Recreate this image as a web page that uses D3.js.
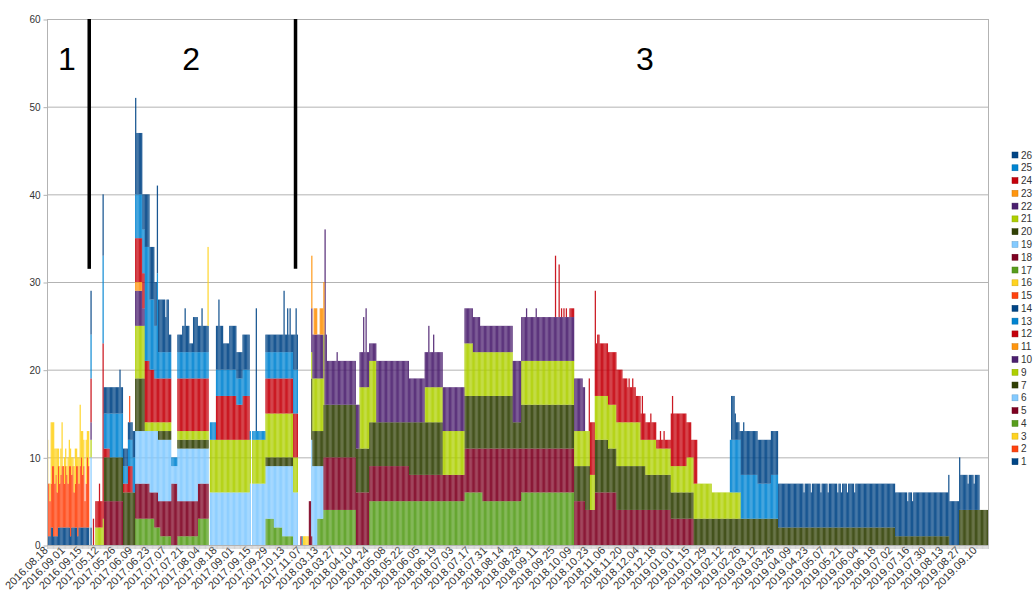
<!DOCTYPE html>
<html>
<head>
<meta charset="utf-8">
<script src="https://cdn.jsdelivr.net/npm/d3@7"></script>
<style>
  html, body { margin: 0; padding: 0; background: #ffffff; }
  svg { display: block; font-family: "Liberation Sans", Arial, sans-serif; }
</style>
</head>
<body>
<svg id="chart" width="1033" height="592"></svg>
<script>
// ---- categories: observation days, grouped in contiguous date spans ----
const dateSpans = [["2016-08-18", 42], ["2017-05-12", 168], ["2017-11-07", 14], ["2018-03-13", 556]];

// every 14th day gets a label on the axis
const tickLabels = [
  "2016.08.18","2016.09.01","2016.09.15","2017.05.12","2017.05.26","2017.06.09","2017.06.23",
  "2017.07.07","2017.07.21","2017.08.04","2017.08.18","2017.09.01","2017.09.15","2017.09.29",
  "2017.10.13","2017.11.07","2018.03.13","2018.03.27","2018.04.10","2018.04.24","2018.05.08",
  "2018.05.22","2018.06.05","2018.06.19","2018.07.03","2018.07.17","2018.07.31","2018.08.14",
  "2018.08.28","2018.09.11","2018.09.25","2018.10.09","2018.10.23","2018.11.06","2018.11.20",
  "2018.12.04","2018.12.18","2019.01.01","2019.01.15","2019.01.29","2019.02.12","2019.02.26",
  "2019.03.12","2019.03.26","2019.04.09","2019.04.23","2019.05.07","2019.05.21","2019.06.04",
  "2019.06.18","2019.07.02","2019.07.16","2019.07.30","2019.08.13","2019.08.27","2019.09.10"
];

const yTicks = [0, 10, 20, 30, 40, 50, 60];

// phase names with the day their caption is centred on
const phaseLabels = [["1", "2016.09.03"], ["2", "2017.07.28"], ["3", "2018.12.09"]];
const dividerDays = ["2016.09.22", "2017.10.23"];

const seriesKeys = ["1","2","3","4","5","6","7","9","10","11","12","13","14","15","16","17","18","19","20","21","22","23","24","25","26"];
const palette = ["#004586","#ff420e","#ffd320","#579d1c","#7e0021","#83caff","#314004","#aecf00","#4b1f6f","#ff950e","#c5000b","#0084d1"];

// ---- series values: first phase read bar by bar, the rest as [fromDay, toDay, value] runs ----
const s1Daily = [1,1,1,2,2,1,1,1,1,2,2,2,2,2,2,2,2,2,2,1,2,2,2,2,2,1,2,2,2,2,2,2,2,2,2];
const s2Daily = [6,6,4,5,7,8,6,7,5,7,5,6,7,7,5,7,6,5,7,8,6,7,4,5,7,8,5,7,8,6,7,3,5,8,7];
const s3Daily = [5,0,2,7,5,5,4,3,5,2,2,3,5,0,3,2,1,3,3,2,2,1,3,4,2,1,3,7,3,5,3,0,5,3,4];
const s1 = [[36,36,2]];
const s2 = [];
const s3 = [];
const s4 = [[73,88,3],[89,93,2],[94,102,1],[108,124,1],[125,133,3],[181,187,3],[188,194,2],[195,203,1]];
const s5 = [[47,62,5],[73,84,4],[85,88,3],[89,91,4],[92,93,3],[94,102,4],[103,107,7],[108,133,4]];
const s6 = [[36,36,8],[73,84,6],[85,102,7],[103,107,2],[108,124,6],[125,133,4],[135,167,6],[168,168,7],[170,180,7],[181,187,6],[188,194,7],[195,203,8],[204,207,6]];
const s7 = [[47,62,5],[63,80,6],[92,102,1],[108,133,1],[181,203,1]];
const s9 = [[36,36,2],[40,45,2],[46,46,3],[73,80,6],[81,102,1],[108,133,1],[135,167,6],[168,168,5],[170,203,5],[204,207,4]];
const s10 = [[36,36,2],[73,78,4],[79,80,2]];
const s11 = [[73,78,1]];
const s12 = [[36,36,5],[38,38,3],[40,42,3],[43,43,5],[44,45,3],[46,46,20],[47,51,1],[63,66,1],[67,70,3],[73,78,5],[79,80,4],[81,84,7],[85,88,6],[89,102,5],[108,133,6],[140,156,5],[157,161,4],[162,167,5],[181,203,4],[204,207,5],[210,210,1]];
const s13 = [[36,36,5],[46,46,10],[47,51,4],[52,62,5],[63,66,2],[67,70,3],[71,72,4],[73,80,5],[81,84,13],[85,88,8],[89,90,6],[91,91,12],[92,102,3],[103,107,1],[108,133,3],[135,139,2],[140,167,3],[168,168,1],[170,180,1],[181,203,3],[204,207,5],[211,211,1]];
const s14 = [[36,36,5],[46,46,7],[47,59,3],[60,60,5],[61,62,3],[63,70,2],[71,72,3],[73,73,11],[74,78,7],[79,80,4],[81,88,6],[89,90,5],[91,91,10],[92,97,6],[98,98,4],[99,100,6],[101,102,2],[108,111,2],[112,113,3],[114,114,5],[115,117,3],[118,120,1],[121,124,4],[125,127,3],[128,128,5],[129,133,3],[140,141,5],[142,142,8],[143,145,5],[146,150,3],[151,156,5],[157,161,3],[162,167,4],[173,173,14],[181,195,2],[196,196,7],[197,198,2],[199,199,5],[200,200,2],[201,201,5],[202,203,2],[204,205,4],[206,206,7],[207,207,4]];
const s15 = [[68,68,3]];
const s16 = [[133,133,9],[212,216,1]];
const s17 = [[224,228,3],[229,255,4],[267,345,5],[346,360,6],[361,392,5],[393,436,6]];
const s18 = [[217,218,5],[219,219,1],[229,266,6],[267,299,4],[300,345,3],[346,360,5],[361,392,6],[393,436,5],[437,445,5],[446,453,4],[454,471,6],[472,516,4],[517,535,3]];
const s19 = [[219,219,11],[220,223,9],[224,228,6]];
const s20 = [[219,219,7],[220,228,4],[229,255,6],[256,299,5],[300,327,6],[346,385,6],[386,392,3],[393,436,5],[437,445,4],[446,449,5],[454,464,6],[465,495,5],[496,516,4],[517,605,3],[606,702,2],[703,747,1],[756,779,4]];
const s21 = [[219,219,3],[220,228,6],[229,229,8],[259,272,7],[313,327,4],[328,345,5],[346,352,6],[353,385,5],[393,436,5],[437,453,4],[454,491,5],[492,495,3],[496,504,4],[505,529,3],[530,550,4],[551,574,3]];
const s22 = [[219,228,5],[230,230,20],[231,231,8],[232,239,5],[240,240,6],[241,258,5],[259,261,4],[262,262,8],[263,263,4],[264,264,9],[265,266,4],[267,272,2],[273,299,7],[300,312,5],[313,315,4],[316,316,7],[317,319,4],[320,320,6],[321,327,4],[328,345,5],[346,358,4],[359,385,3],[386,392,7],[393,396,5],[397,397,6],[398,404,5],[405,405,6],[406,436,5],[437,443,6],[444,445,5]];
const s23 = [[219,219,6],[221,223,3],[226,228,3],[229,229,6]];
const s24 = [[421,421,7],[424,424,6],[426,426,1],[428,428,1],[430,430,1],[433,436,1],[449,453,6],[454,454,12],[455,455,6],[456,457,7],[458,476,6],[477,480,5],[481,481,4],[482,482,5],[483,484,4],[485,485,5],[486,487,4],[488,492,3],[493,493,5],[494,495,3],[496,499,2],[500,500,3],[501,504,2],[505,507,1],[508,508,2],[509,510,1],[511,511,2],[512,516,1],[517,517,6],[518,518,8],[519,529,6],[530,533,4],[534,535,2],[536,538,5]];
const s25 = [[566,574,6],[575,588,5],[589,599,4],[600,605,5]];
const s26 = [[567,569,5],[570,570,3],[571,573,2],[574,574,1],[575,576,5],[577,577,6],[578,626,5],[627,627,4],[628,632,5],[633,633,4],[634,640,5],[641,641,4],[642,646,5],[647,647,4],[648,654,5],[655,655,4],[656,657,5],[658,658,4],[659,662,5],[663,663,4],[664,668,5],[669,669,4],[670,712,5],[713,713,4],[714,716,5],[717,717,4],[718,746,5],[747,747,7],[748,755,5],[756,756,6],[757,762,4],[763,763,3],[764,767,4],[768,768,3],[769,772,4]];

// ---- build the day list ----
const fmt = d3.utcFormat("%Y.%m.%d");
const categories = [];
dateSpans.forEach(([start, count]) => {
  const d0 = new Date(start + "T00:00:00Z");
  for (let k = 0; k < count; k++) categories.push(fmt(d3.utcDay.offset(d0, k)));
});
const N = categories.length;

function expand(runs, daily) {
  const v = new Array(N).fill(0);
  if (daily) daily.forEach((d, i) => { v[i] = d; });
  runs.forEach(([a, b, val]) => { for (let i = a; i <= b; i++) v[i] = val; });
  return v;
}

const seriesRuns = {
  "1": expand(s1, s1Daily), "2": expand(s2, s2Daily), "3": expand(s3, s3Daily),
  "4": expand(s4), "5": expand(s5), "6": expand(s6), "7": expand(s7), "9": expand(s9),
  "10": expand(s10), "11": expand(s11), "12": expand(s12), "13": expand(s13), "14": expand(s14),
  "15": expand(s15), "16": expand(s16), "17": expand(s17), "18": expand(s18), "19": expand(s19),
  "20": expand(s20), "21": expand(s21), "22": expand(s22), "23": expand(s23), "24": expand(s24),
  "25": expand(s25), "26": expand(s26)
};

const rows = categories.map((c, i) => {
  const r = { day: c };
  seriesKeys.forEach(k => { r[k] = seriesRuns[k][i]; });
  return r;
});

const color = d3.scaleOrdinal().domain(seriesKeys).range(seriesKeys.map((k, i) => palette[i % palette.length]));

// ---- layout ----
const plot = { left: 47, right: 988, top: 19, bottom: 545 };
const svg = d3.select("#chart");

const x = d3.scaleBand().domain(categories).range([plot.left, plot.right]).paddingInner(0).paddingOuter(0);
const y = d3.scaleLinear().domain([0, 60]).range([plot.bottom, plot.top]);

const gridColor = "#b3b3b3";

// horizontal grid
svg.append("g").selectAll("line").data(yTicks).join("line")
  .attr("x1", plot.left).attr("x2", plot.right)
  .attr("y1", d => y(d) + 0.5).attr("y2", d => y(d) + 0.5)
  .attr("stroke", gridColor).attr("stroke-width", 1);

// stacked bars
const stacked = d3.stack().keys(seriesKeys)(rows);
const bw = x.bandwidth();
const barsG = svg.append("g");
stacked.forEach(layer => {
  barsG.append("g")
    .attr("fill", color(layer.key))
    .attr("fill-opacity", 0.9)
    .selectAll("rect")
    .data(layer.filter(d => d[1] > d[0]))
    .join("rect")
    .attr("x", d => x(d.data.day))
    .attr("width", bw + 0.05)
    .attr("y", d => y(d[1]))
    .attr("height", d => y(d[0]) - y(d[1]));
});

// plot frame: left axis and right wall
svg.append("line").attr("x1", plot.left + 0.5).attr("x2", plot.left + 0.5)
  .attr("y1", plot.top).attr("y2", plot.bottom + 0.5).attr("stroke", gridColor);
svg.append("line").attr("x1", plot.right + 0.5).attr("x2", plot.right + 0.5)
  .attr("y1", plot.top).attr("y2", plot.bottom + 0.5).attr("stroke", gridColor);

// y axis ticks and labels
const yAxis = d3.axisLeft(y).tickValues(yTicks).tickSize(4).tickPadding(3);
const yG = svg.append("g").attr("transform", `translate(${plot.left + 0.5},0.5)`).call(yAxis);
yG.select(".domain").remove();
yG.selectAll(".tick line").attr("stroke", gridColor);
yG.selectAll(".tick text").attr("font-size", 10).attr("fill", "#333")
  .attr("font-family", "'Liberation Sans', Arial, sans-serif");

// x axis: a tick per day, a label every 14 days
const xAxis = d3.axisBottom(x).tickValues(tickLabels.filter(t => x(t) !== undefined)).tickSize(0).tickPadding(0);
const xG = svg.append("g").attr("transform", `translate(0,${plot.bottom})`).call(xAxis);
xG.select(".domain").attr("stroke", gridColor).attr("d", `M${plot.left},0.5H${plot.right + 0.5}`);
xG.selectAll(".tick text")
  .attr("font-size", 11).attr("fill", "#333")
  .attr("font-family", "'Liberation Sans', Arial, sans-serif")
  .attr("text-anchor", "end")
  .attr("transform", "translate(-4.8,0.2) rotate(-45)")
  .attr("dy", "0.75em").attr("y", 0).attr("x", 0);

svg.append("g").selectAll("line").data(d3.range(N + 1)).join("line")
  .attr("x1", i => plot.left + i * bw + 0.5).attr("x2", i => plot.left + i * bw + 0.5)
  .attr("y1", plot.bottom + 1).attr("y2", plot.bottom + 4)
  .attr("stroke", gridColor).attr("stroke-width", 0.6);

// phase dividers and captions
svg.append("g").selectAll("line").data(dividerDays).join("line")
  .attr("x1", d => x(d)).attr("x2", d => x(d))
  .attr("y1", y(60)).attr("y2", y(31.5))
  .attr("stroke", "#000").attr("stroke-width", 3.5);

svg.append("g").selectAll("text").data(phaseLabels).join("text")
  .attr("x", d => x(d[1]) + bw / 2)
  .attr("y", 70)
  .attr("text-anchor", "middle")
  .attr("font-size", 32)
  .attr("fill", "#000")
  .text(d => d[0]);

// legend, last series on top
const legendKeys = seriesKeys.slice().reverse();
const legendTop = 155, legendStep = 12.78;
const lg = svg.append("g");
legendKeys.forEach((k, i) => {
  const cy = legendTop + i * legendStep;
  lg.append("rect").attr("x", 1012).attr("y", cy - 3).attr("width", 6).attr("height", 6)
    .attr("fill", color(k)).attr("stroke", d3.color(color(k)).darker(0.6)).attr("stroke-width", 0.5);
  lg.append("text").attr("x", 1021).attr("y", cy).attr("dy", "0.35em")
    .attr("font-size", 10).attr("fill", "#333").text(k);
});
</script>
</body>
</html>
